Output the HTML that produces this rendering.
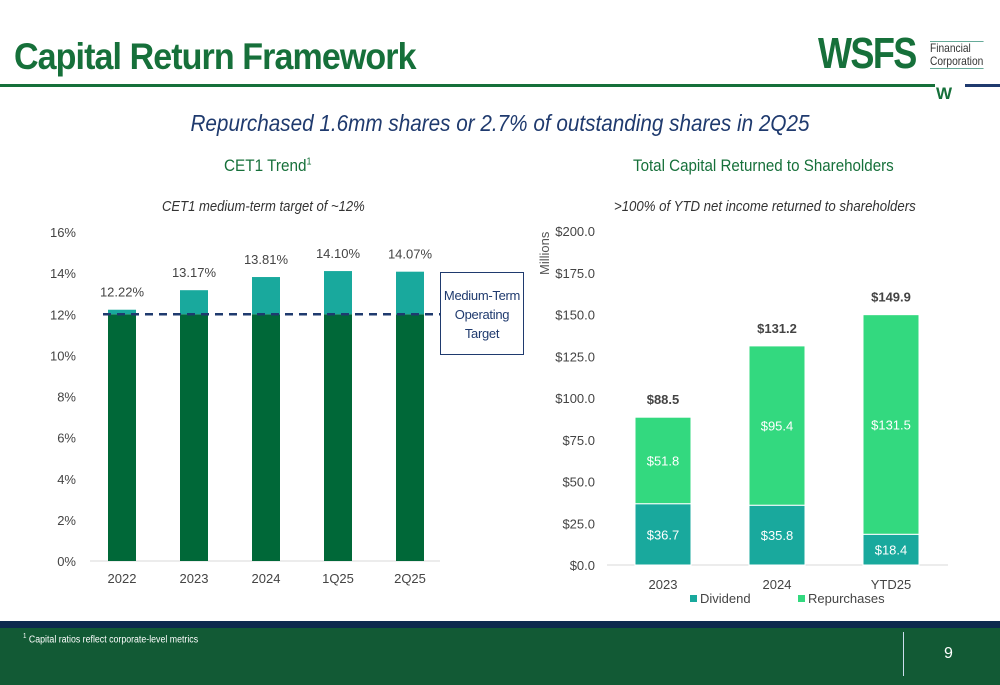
<!DOCTYPE html>
<html><head><meta charset="utf-8"><style>
body{margin:0;width:1000px;height:685px;overflow:hidden;background:#fff;font-family:"Liberation Sans",sans-serif;position:relative}
.a{position:absolute;white-space:nowrap}
</style></head><body>
<div class="a" style="left:14px;top:36px;font-size:37px;font-weight:bold;color:#16703a;letter-spacing:-1px;transform:scaleX(0.92);transform-origin:left">Capital Return Framework</div>
<div class="a" style="left:0;top:84px;width:935px;height:3px;background:#16703a"></div>
<div class="a" style="left:965px;top:84px;width:35px;height:3px;background:#1f3a6e"></div>
<div class="a" style="left:818px;top:33px;font-size:44px;font-weight:900;color:#16703a;letter-spacing:-2px;line-height:42px;transform:scaleX(0.82);transform-origin:left">WSFS</div>
<div class="a" style="left:930px;top:41px;font-size:12px;line-height:13px;color:#333;border-top:1px solid #6a9;border-bottom:1px solid #6a9;transform:scaleX(0.85);transform-origin:left">Financial<br>Corporation</div>
<div class="a" style="left:936px;top:84px;font-size:17px;font-weight:900;color:#16703a">W</div>
<div class="a" style="left:0;width:1000px;text-align:center;top:110px;font-size:23px;font-style:italic;color:#1f3a6e;transform:scaleX(0.9)">Repurchased 1.6mm shares or 2.7% of outstanding shares in 2Q25</div>
<div class="a" style="left:224px;top:156px;font-size:17px;color:#16703a;transform:scaleX(0.9);transform-origin:left">CET1 Trend<sup style="font-size:10px">1</sup></div>
<div class="a" style="left:633px;top:156px;font-size:17px;color:#16703a;transform:scaleX(0.89);transform-origin:left">Total Capital Returned to Shareholders</div>
<div class="a" style="left:162px;top:198px;font-size:15px;font-style:italic;color:#333;transform:scaleX(0.87);transform-origin:left">CET1 medium-term target of ~12%</div>
<div class="a" style="left:614px;top:198px;font-size:15px;font-style:italic;color:#333;transform:scaleX(0.88);transform-origin:left">&gt;100% of YTD net income returned to shareholders</div>
<svg class="a" style="left:0;top:0" width="1000" height="620" id="svg"></svg>
<div class="a" style="left:440px;top:272px;width:84px;height:83px;border:1px solid #1f3a6e;background:#fff;text-align:center;font-size:13px;line-height:19px;color:#1f3a6e;padding-top:13px;box-sizing:border-box;letter-spacing:-0.3px">Medium-Term<br>Operating<br>Target</div>
<div class="a" style="left:0;top:621px;width:1000px;height:7px;background:#0d2a4e"></div>
<div class="a" style="left:0;top:628px;width:1000px;height:57px;background:#125a35"></div>
<div class="a" style="left:23px;top:633px;font-size:10px;color:#fff;transform:scaleX(0.88);transform-origin:left"><sup style="font-size:7px">1</sup> Capital ratios reflect corporate-level metrics</div>
<div class="a" style="left:903px;top:632px;width:1px;height:44px;background:#cde"></div>
<div class="a" style="left:944px;top:645px;font-size:16px;color:#fff">9</div>
<script>
const cetYears=["2022","2023","2024","1Q25","2Q25"];
const cetValues=[12.22,13.17,13.81,14.10,14.07];
const cetTarget=12;
const cetTicks=[0,2,4,6,8,10,12,14,16];
const capCats=["2023","2024","YTD25"];
const dividends=[36.7,35.8,18.4];
const repurchases=[51.8,95.4,131.5];
const capTotals=[88.5,131.2,149.9];
const capTicks=[0,25,50,75,100,125,150,175,200];
const NS="http://www.w3.org/2000/svg",svg=document.getElementById('svg');
function mk(t,a,txt){const e=document.createElementNS(NS,t);for(const k in a)e.setAttribute(k,a[k]);if(txt!=null)e.textContent=txt;svg.appendChild(e);return e;}
const yL=v=>561-v*(329/16), xL=i=>122+i*72;
cetTicks.forEach(t=>{const e=mk('text',{x:76,y:yL(t)+5,'text-anchor':'end','font-size':13,fill:'#444'},t+'%');

});
const ax=mk('line',{x1:90,x2:440,y1:561,y2:561,stroke:'#d9d9d9'});


cetValues.forEach((v,i)=>{
const b=mk('rect',{x:xL(i)-14,y:yL(cetTarget),width:28,height:yL(0)-yL(cetTarget),fill:'#006838'});


const t=mk('rect',{x:xL(i)-14,y:yL(v),width:28,height:yL(cetTarget)-yL(v),fill:'#19a99d'});


const l=mk('text',{x:xL(i),y:yL(v)-13,'text-anchor':'middle','font-size':13,fill:'#444'},v.toFixed(2)+'%');


const c=mk('text',{x:xL(i),y:583,'text-anchor':'middle','font-size':13,fill:'#444'},cetYears[i]);

});
const dl=mk('line',{x1:103,x2:440,y1:yL(cetTarget),y2:yL(cetTarget),stroke:'#1f3a6e','stroke-width':2.5,'stroke-dasharray':'8,6'});


const yR=v=>565-v*(334/200), xR=i=>663+i*114;
capTicks.forEach(t=>{const e=mk('text',{x:595,y:yR(t)+5,'text-anchor':'end','font-size':13,fill:'#444'},'$'+t.toFixed(1));

});
const mt=mk('text',{x:0,y:0,'font-size':13,fill:'#555',transform:'translate(549,275) rotate(-90)'},'Millions');


const ax2=mk('line',{x1:607,x2:948,y1:565,y2:565,stroke:'#d9d9d9'});


capCats.forEach((c,i)=>{const d=dividends[i],r=repurchases[i];
const b=mk('rect',{x:xR(i)-28,y:yR(d),width:56,height:yR(0)-yR(d),fill:'#19a99d',stroke:'#fff','stroke-width':1});


const t=mk('rect',{x:xR(i)-28,y:yR(d+r),width:56,height:yR(d)-yR(d+r),fill:'#33d97f',stroke:'#fff','stroke-width':1});


const dlb=mk('text',{x:xR(i),y:(yR(d)+yR(0))/2+5,'text-anchor':'middle','font-size':13,fill:'#fff'},'$'+d.toFixed(1));


const rlb=mk('text',{x:xR(i),y:(yR(d)+yR(d+r))/2+5,'text-anchor':'middle','font-size':13,fill:'#fff'},'$'+r.toFixed(1));


const tl=mk('text',{x:xR(i),y:yR(capTotals[i])-13,'text-anchor':'middle','font-size':13,'font-weight':'bold',fill:'#444'},'$'+capTotals[i].toFixed(1));


const xl=mk('text',{x:xR(i),y:589,'text-anchor':'middle','font-size':13,fill:'#444'},c);

});
[['Dividend','#19a99d',690],['Repurchases','#33d97f',798]].forEach(([n,c,x])=>{
const s=mk('rect',{x:x,y:595,width:7,height:7,fill:c});


const t=mk('text',{x:x+10,y:603,'font-size':13,fill:'#444'},n);

});
</script>
</body></html>
